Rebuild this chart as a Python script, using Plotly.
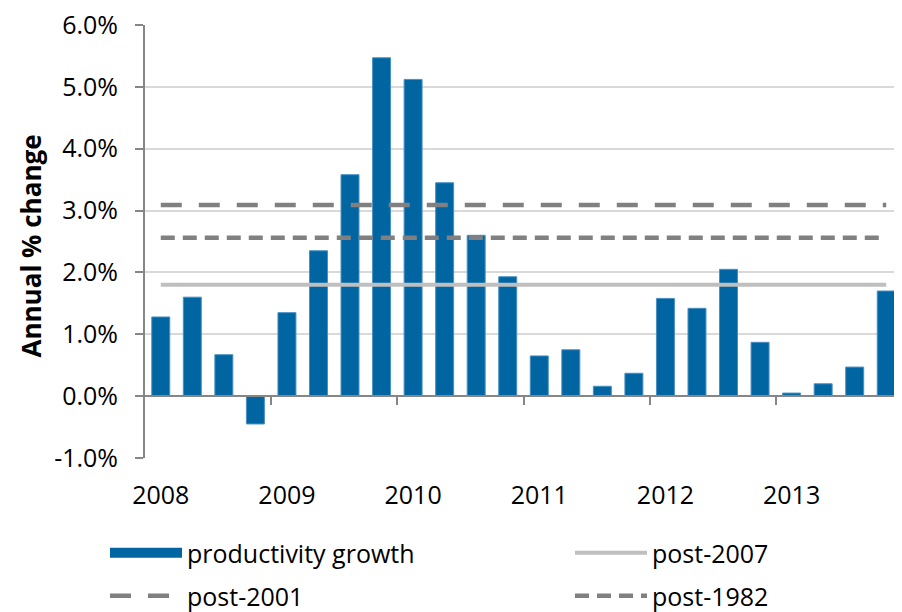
"""Quarterly productivity growth vs long-run averages."""
import plotly.graph_objects as go

quarters = list(range(24))  # 2008Q1 .. 2013Q4
growth = [1.28, 1.60, 0.67, -0.45,
          1.35, 2.35, 3.58, 5.47,
          5.12, 3.45, 2.60, 1.93,
          0.65, 0.75, 0.16, 0.37,
          1.58, 1.42, 2.05, 0.87,
          0.05, 0.20, 0.47, 1.70]
post_2007 = 1.80
post_2001 = 3.09
post_1982 = 2.56

year_ticks = [0, 4, 8, 12, 16, 20]
year_labels = ['2008', '2009', '2010', '2011', '2012', '2013']
year_bounds = [3.5, 7.5, 11.5, 15.5, 19.5]
y_ticks = [-1, 0, 1, 2, 3, 4, 5, 6]
y_labels = ['-1.0%', '0.0%', '1.0%', '2.0%', '3.0%', '4.0%', '5.0%', '6.0%']

BLUE = '#0065A1'
FONT = 'Open Sans'
W, H = 894, 604  # page body has an 8px margin, so keep inside the window

fig = go.Figure()

fig.add_trace(go.Bar(
    x=quarters, y=growth, name='productivity growth',
    marker=dict(color=BLUE, line=dict(color='#4a90c4', width=1)),
    showlegend=False,
))
# legend proxy so the swatch is a wide block like the original
fig.add_trace(go.Scatter(
    x=[None], y=[None], name='productivity growth', mode='lines',
    line=dict(color=BLUE, width=14), legend='legend', hoverinfo='skip',
))

# average lines (drawn on the overlay axis so it has traces)
fig.add_trace(go.Scatter(
    x=quarters, y=[post_2007] * len(quarters), name='post-2007', mode='lines',
    line=dict(color='#BFBFBF', width=4), xaxis='x2', legend='legend2',
))
fig.add_trace(go.Scatter(
    x=quarters, y=[post_2001] * len(quarters), name='post-2001', mode='lines',
    line=dict(color='#808080', width=4.5, dash='21px,17px'), xaxis='x2', legend='legend3',
))
fig.add_trace(go.Scatter(
    x=quarters, y=[post_1982] * len(quarters), name='post-1982', mode='lines',
    line=dict(color='#808080', width=4.5, dash='14px,8px'), xaxis='x2', legend='legend4',
))

xr = [-0.5, 23.5]


def leg(x_px, y_px):
    # one legend per entry so the 2x2 grid can be placed like the original
    return dict(
        xref='container', yref='container',
        x=x_px / W, y=1 - y_px / H, xanchor='left', yanchor='middle',
        font=dict(family=FONT, size=25, color='#000'),
        itemwidth=72, bgcolor='rgba(0,0,0,0)',
    )


fig.update_layout(
    width=W, height=H,
    margin=dict(l=137, r=0, t=17, b=154, autoexpand=False),
    plot_bgcolor='white', paper_bgcolor='white',
    font=dict(family=FONT, size=25, color='#000'),
    bargap=0.43,
    showlegend=True,
    legend=leg(97, 545),
    legend2=leg(562, 545),
    legend3=leg(97, 588),
    legend4=leg(562, 588),
    xaxis=dict(
        range=xr, tickvals=year_ticks, ticktext=year_labels,
        showline=False, showgrid=False, zeroline=False,
        ticks='outside', ticklen=15, tickcolor='rgba(0,0,0,0)',
        tickfont=dict(size=25), tickangle=0,
    ),
    xaxis2=dict(
        range=xr, overlaying='x', anchor='free', position=1 / 7,
        showline=True, linecolor='#868686', linewidth=2,
        ticks='outside', tickvals=year_bounds, ticklen=8, tickwidth=2,
        tickcolor='#868686', showticklabels=False, showgrid=False, zeroline=False,
    ),
    yaxis=dict(
        range=[-1, 6], tickvals=y_ticks, ticktext=y_labels,
        showline=True, linecolor='#868686', linewidth=2,
        ticks='outside', ticklen=8, tickwidth=2, tickcolor='#868686',
        showgrid=True, gridcolor='#D9D9D9', gridwidth=2, zeroline=False,
        ticklabelstandoff=12, ticklabeloverflow='allow', tickfont=dict(size=25),
    ),
    annotations=[dict(
        text='<b>Annual % change</b>', textangle=-90,
        xref='paper', yref='paper', x=-0.151, y=0.49,
        xanchor='center', yanchor='middle', showarrow=False,
        font=dict(family=FONT, size=26, color='#000'),
    )],
)

fig.write_html("out.html")
